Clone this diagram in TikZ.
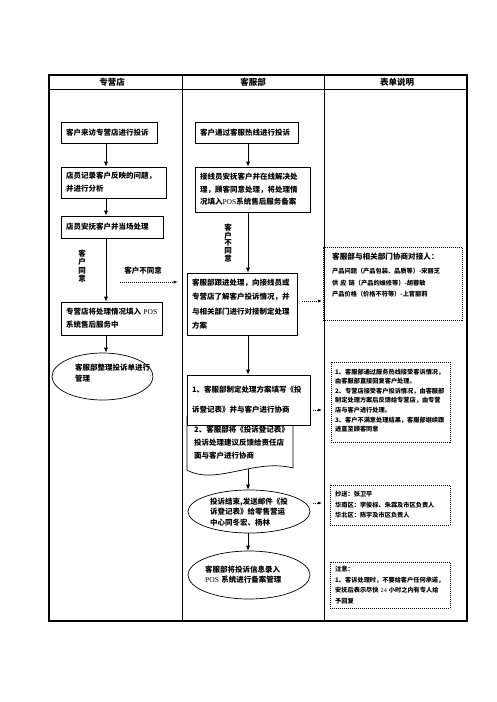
\documentclass[tikz,border=0pt]{standalone}
\usepackage{fontspec}
\setmainfont{Noto Sans CJK SC}
\newfontfamily\lat{Liberation Serif}
\usetikzlibrary{arrows.meta,shapes.geometric,calc}
\begin{document}
\begin{tikzpicture}[x=1pt,y=-1pt,
 every node/.style={inner sep=0pt},
 box/.style={draw, line width=0.7pt, fill=white, inner xsep=5pt, inner ysep=0pt, align=left},
 bf/.style={font=\bfseries\fontsize{7.5}{#1}\selectfont},
 oval/.style={draw, ellipse, line width=0.7pt, fill=white},
 otext/.style={align=left, anchor=west},
 dbox/.style={draw, line width=0.6pt, dash pattern=on 1pt off 1pt},
 rtext/.style={align=left, anchor=north west, font=\bfseries\fontsize{6.2}{#1}\selectfont},
 arr/.style={line width=0.7pt, -{Latex[length=5pt,width=4pt]}},
 darr/.style={line width=0.6pt, dash pattern=on 1pt off 1pt, -{Latex[length=4pt,width=3pt]}},
 vlab/.style={align=center, font=\bfseries\fontsize{7.5}{#1}\selectfont},
 head/.style={font=\bfseries\fontsize{8.5}{10}\selectfont},
]
\useasboundingbox (0,0) rectangle (496,702);

% table
\draw[line width=1.1pt] (49,75) rectangle (467,621);
\draw[line width=0.9pt] (49,89) -- (467,89);
\draw[line width=0.9pt] (182,75) -- (182,621);
\draw[line width=0.9pt] (324,75) -- (324,621);
\node[head] (h1) at (112,82) {专营店};
\node[head] (h2) at (253,82) {客服部};
\node[head] (h3) at (397,82) {表单说明};

\coordinate (lx) at (106,0);
\coordinate (mx) at (248,0);

% left column
\node[box, bf=13, minimum width=96pt, minimum height=21pt, text width=86pt] (l1) at (109,132.5) {客户来访专营店进行投诉};
\node[box, bf=13, minimum width=105pt, minimum height=31pt, text width=95pt] (l2) at (113.5,182.5) {店员记录客户反映的问题，\\并进行分析};
\node[box, bf=13, minimum width=102pt, minimum height=22pt, text width=92pt] (l3) at (112,227) {店员安抚客户并当场处理};
\node[box, bf=13, minimum width=101pt, minimum height=33pt, text width=91pt] (l4) at (111.5,318.5) {\mbox{专营店将处理情况填入~{\lat\mdseries POS}}\\系统售后服务中};
\node[oval, minimum width=101pt, minimum height=47pt] (el) at (102.5,376.5) {};
\node[otext, bf=10.5, text width=78pt] (elt) at (75,373) {客服部整理投诉单进行\\管理};

\draw[arr] (l1.south -| lx) -- (l2.north -| lx);
\draw[arr] (l2.south -| lx) -- (l3.north -| lx);
\draw[arr] (l3.south -| lx) -- (l4.north -| lx);
\draw[arr] (l4.south -| lx) -- (el.north -| lx);

\node[vlab=8.3] (agree) at (82,266) {客\\户\\同\\意};
\node[vlab=10] (ndlab) at (143,271) {客户不同意};

% middle column
\node[box, bf=13, minimum width=103pt, minimum height=21pt, text width=93pt] (m1) at (246.5,132.5) {客户通过客服热线进行投诉};
\node[box, bf=12.5, minimum width=115pt, minimum height=45pt, text width=105pt] (m2) at (252.5,189.5) {接线员安抚客户并在线解决处\\理，顾客同意处理，将处理情\\况填入{\lat\mdseries POS}系统售后服务备案};
\node[box, bf=14.5, minimum width=110pt, minimum height=62pt, text width=100pt] (m3) at (242,304) {客服部跟进处理，向接线员或\\专营店了解客户投诉情况，并\\与相关部门进行对接制定处理\\方案};

\node[vlab=7.6] (disagree) at (228,243) {客\\户\\不\\同\\意};

\draw[arr] (m1.south -| mx) -- (m2.north -| mx);
\draw[arr] (m2.south -| mx) -- (m3.north -| mx);

\node[oval, minimum width=122pt, minimum height=43pt] (e1) at (249,511.5) {};
\node[oval, minimum width=122pt, minimum height=48pt] (e2) at (249,575) {};

% M4 -> E1 drawn before document shape and box
\coordinate (m4c) at (248.5,400);
\draw[arr] (m4c -| mx) -- (e1.north -| mx);

% document shape
\draw[line width=0.7pt, fill=white] (187,416) -- (187,470) .. controls (215,486) and (255,458) .. (293,468) -- (293,416);
\node[otext, bf=13, text width=100pt] (doct) at (194,443) {2、客服部将《投诉登记表》\\投诉处理建议反馈给责任店\\面与客户进行协商};

\node[box, bf=20, minimum width=123pt, minimum height=50pt, text width=113pt] (m4) at (m4c) {1、客服部制定处理方案填写《投\\诉登记表》并与客户进行协商};
\draw[arr] (m3.south -| mx) -- (m4.north -| mx);

\node[otext, bf=10.5, text width=90pt] (e1t) at (210,512) {投诉结束,发送邮件《投\\诉登记表》给零售营运\\中心同冬宏、杨林};
\node[otext, bf=10, text width=90pt] (e2t) at (205,574.5) {客服部将投诉信息录入\\{\lat\mdseries POS} 系统进行备案管理};
\draw[arr] (e1.south -| mx) -- (e2.north -| mx);

% right column
\node[dbox, minimum width=139pt, minimum height=73pt] (ra) at (392.5,283.5) {};
\node[rtext=11.5, text width=128pt] (rat) at (332,252.5) {{\fontsize{7.6}{9}\selectfont 客服部与相关部门协商对接人：}\\[3pt]产品问题（产品包装、品质等）-宋丽芝\\供\ 应\ 链（产品的维修等）-胡蓉敏\\产品价格（价格不符等）-上官丽莉};

\node[dbox, minimum width=119pt, minimum height=80pt] (rb) at (390.5,402) {};
\node[rtext=9.6, text width=114pt] (rbt) at (335,368.5) {1、客服部通过服务热线接受客诉情况，\\由客服部直接回复客户处理。\\2、专营店接受客户投诉情况，由客服部\\制定处理方案后反馈给专营店，由专营\\店与客户进行处理。\\3、客户不满意处理结果，客服部继续跟\\进直至顾客同意};

\node[dbox, minimum width=120pt, minimum height=40pt] (rc) at (390,505) {};
\node[rtext=10.5, text width=114pt] (rct) at (335,491) {抄送：张卫平\\华南区：李俊标、朱霖及市区负责人\\华北区：陈宇及市区负责人};

\node[dbox, minimum width=120pt, minimum height=46pt] (rd) at (390,585) {};
\node[rtext=10.5, text width=114pt] (rdt) at (335,566) {注意：\\1、客诉处理时，不要给客户任何承诺，\\安抚后表示尽快 {\lat\mdseries 24} 小时之内有专人给\\予回复};

% dashed arrows
\coordinate (nd) at (120,282);
\draw[darr, shorten >=9pt] (nd) -- (nd -| m3.west);
\coordinate (t1) at (322,301);
\draw[darr, shorten <=5pt] (m3.east |- t1) -- (t1);
\coordinate (t2) at (322,410);
\draw[darr, shorten <=3pt] (m4.east |- t2) -- (t2);
\coordinate (t3) at (322,503);
\draw[darr, shorten <=3pt] (e1.east |- t3) -- (t3);
\end{tikzpicture}
\end{document}
